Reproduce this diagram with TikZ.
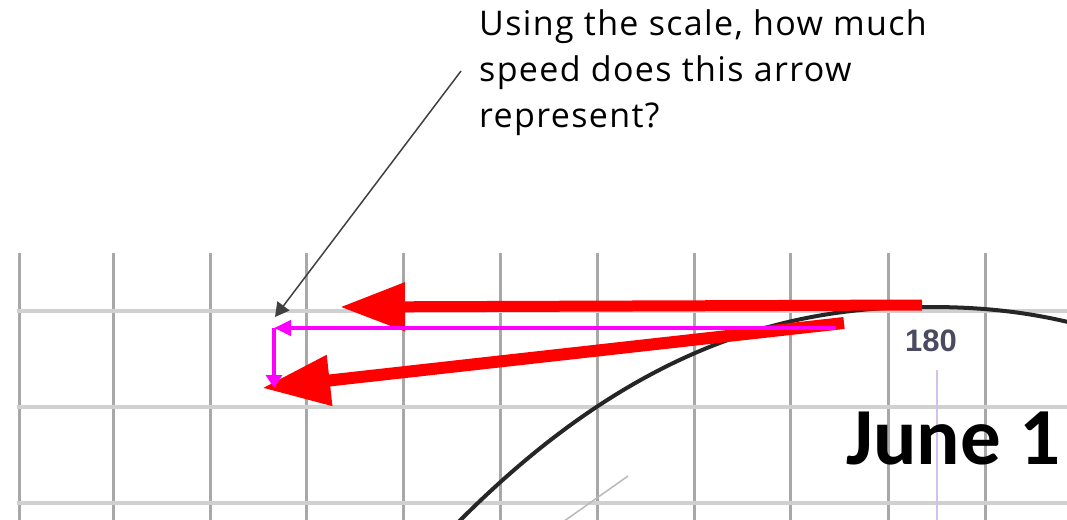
\documentclass[tikz,border=0pt]{standalone}
\usepackage{fontspec}
\setmainfont{Open Sans}
\newfontfamily\qfont[LetterSpace=4]{Open Sans}
\newfontfamily\calib{Carlito}
\newfontfamily\arialf{Liberation Sans}
\usetikzlibrary{arrows.meta}
\definecolor{vgrid}{HTML}{A8A8A8}
\definecolor{hgrid}{HTML}{D0D0D0}
\definecolor{curvecol}{HTML}{262626}
\definecolor{ptrcol}{HTML}{404040}
\definecolor{lblcol}{HTML}{4A4A60}
\definecolor{lav}{HTML}{D4C0E8}
\definecolor{magc}{HTML}{FF00FF}
\definecolor{redc}{HTML}{FF0000}
\tikzset{
  vline/.style={draw=vgrid, line width=3pt},
  hline/.style={draw=hgrid, line width=4pt},
  curveline/.style={draw=curvecol, line width=4pt},
  magarrow/.style={draw=magc, line width=4pt},
  redarrow/.style={draw=redc, line width=12pt},
  ptrarrow/.style={draw=ptrcol, line width=1.5pt, -{Triangle[length=14pt,width=15pt]}},
}
\begin{document}
\begin{tikzpicture}[x=1pt,y=-1pt]
\useasboundingbox (0,0) rectangle (1067,519);
\clip (0,0) rectangle (1067,519);
% grid
\foreach \gx in {19,113,210,306,403,500,597,694,790,888,985}
  \draw[vline] (\gx,253) -- (\gx,525);
\foreach \gy in {311,407,503}
  \draw[hline] (17,\gy) -- (1070,\gy);
% lavender tick line
\draw[draw=lav, line width=1.5pt] (937,370) -- (937,525);
% thin gray line
\draw[draw=gray!55, line width=1.5pt] (560,524) -- (628,476);
% curve
\draw[curveline] plot[domain=458:1072, samples=90, smooth] (\x, {307 + 7.16*pow(abs(\x-928)/100, 2.2)});
% labels on chart
\node[font=\arialf\bfseries\fontsize{31}{31}\selectfont, text=lblcol, inner sep=0pt] (lbl) at (931,341) {180};
\node[font=\calib\bfseries\fontsize{81}{81}\selectfont, anchor=base west, inner sep=0pt] (june) at (846,464) {June 1};
% red arrows
\coordinate (r1s) at (922,305);
\coordinate (r1e) at (340,307);
\coordinate (r2s) at (844,323);
\coordinate (r2e) at (262,388);
\draw[redarrow, line width=11pt, -{Triangle[length=65pt,width=46pt]}] (r1s) -- (r1e);
\draw[redarrow, -{Triangle[length=68pt,width=48pt]}] (r2s) -- (r2e);
% magenta arrows
\coordinate (m1s) at (836,328);
\coordinate (mc) at (274,328);
\coordinate (m2e) at (274,388);
\draw[magarrow, -{Triangle[length=17pt,width=15pt]}] (m1s) -- (mc);
\draw[magarrow, -{Triangle[length=13pt,width=16pt]}] (mc) -- (m2e);
% question text
\node[anchor=base west, align=left, inner sep=0pt, font=\qfont\fontsize{34}{46}\selectfont] (q) at (479,127)
  {Using the scale, how much\\speed does this arrow\\represent?};
\coordinate (ps) at (461,71);
\coordinate (pt) at (275,317);
\draw[ptrarrow] (ps) -- (pt);
\end{tikzpicture}
\end{document}
